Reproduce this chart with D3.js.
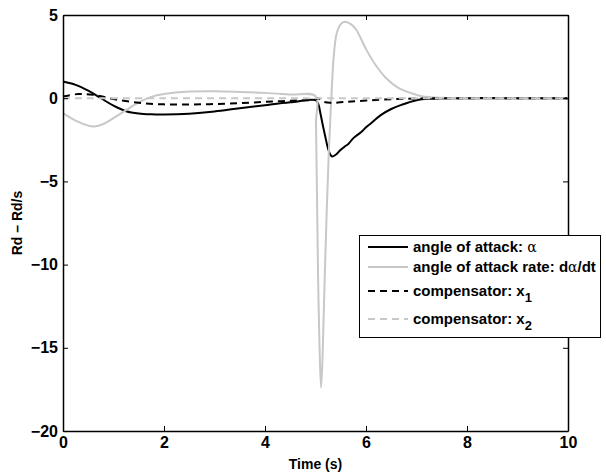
<!DOCTYPE html>
<html>
<head>
<meta charset="utf-8">
<script src="https://cdn.jsdelivr.net/npm/d3@7"></script>
<style>
  body { margin: 0; background: #fff; }
  text { font-family: "Liberation Sans", Arial, Helvetica, sans-serif; font-weight: bold; }
</style>
</head>
<body>
<div id="container"></div>
<script>
// angle of attack (black, solid)
var alphaT = [0, 0.25, 0.5, 0.75, 1, 1.25, 1.5, 1.75, 2, 2.5, 3, 3.5, 4, 4.5, 5,
  5.05, 5.1, 5.15, 5.2, 5.25, 5.3, 5.33, 5.4, 5.5, 5.58, 5.65, 5.75, 5.9, 6, 6.1,
  6.3, 6.5, 6.7, 7, 7.3, 7.6, 8, 9, 10];
var alphaV = [1.0, 0.8, 0.45, 0.0, -0.45, -0.78, -0.92, -0.97, -0.98, -0.93, -0.8, -0.6, -0.42, -0.25, -0.12,
  -0.3, -0.95, -1.7, -2.4, -3.05, -3.42, -3.5, -3.4, -3.1, -2.9, -2.75, -2.4, -2.05, -1.75, -1.5,
  -1.0, -0.65, -0.4, -0.12, -0.03, 0, 0, 0, 0];

// angle of attack rate (light grey, solid)
var rateT = [0, 0.25, 0.5, 0.62, 0.8, 1, 1.25, 1.5, 1.75, 2, 2.5, 3, 3.5, 4, 4.5, 5,
  5.01, 5.03, 5.05, 5.08, 5.11, 5.14, 5.18, 5.22, 5.26, 5.3, 5.33, 5.36, 5.42, 5.5, 5.58,
  5.7, 5.81, 6, 6.2, 6.4, 6.65, 6.9, 7.1, 7.5, 8, 9, 10];
var rateV = [-0.9, -1.35, -1.65, -1.7, -1.55, -1.2, -0.72, -0.25, 0.08, 0.25, 0.4, 0.42, 0.38, 0.32, 0.22, 0.12,
  -1.5, -6, -10.5, -15, -17.4, -15.5, -11, -7, -3.5, -0.8, 1.0, 2.5, 3.9, 4.45, 4.6,
  4.45, 4.1, 2.95, 1.95, 1.2, 0.6, 0.3, 0.12, 0.02, 0, 0, 0];

// compensator x1 (black, dashed)
var x1T = [0, 0.3, 0.6, 1, 1.5, 2, 2.5, 3, 3.5, 4, 4.5, 5, 5.05, 5.15, 5.3, 5.6, 6, 6.5, 7, 7.5, 10];
var x1V = [0.1, 0.25, 0.2, -0.05, -0.28, -0.37, -0.38, -0.35, -0.3, -0.22, -0.15, -0.08, 0.0, -0.2, -0.28, -0.22, -0.14, -0.06, -0.02, 0, 0];

// compensator x2 (light grey, dashed)
var x2T = [0, 2, 4, 5, 6, 8, 10];
var x2V = [0, 0, 0, 0, 0, 0, 0];

var xTicks = [0, 2, 4, 6, 8, 10];
var yTicks = [5, 0, -5, -10, -15, -20];

var series = [
  { t: alphaT, v: alphaV, color: "#000", dash: null },
  { t: rateT, v: rateV, color: "#c8c8c8", dash: null },
  { t: x1T, v: x1V, color: "#000", dash: "7,5" },
  { t: x2T, v: x2V, color: "#c8c8c8", dash: "7,5" }
];

var legendItems = [
  [["angle of attack: ", "b"], ["\u03b1", "g"]],
  [["angle of attack rate: d", "b"], ["\u03b1", "g"], ["/dt", "b"]],
  [["compensator: x", "b"], ["1", "sub"]],
  [["compensator: x", "b"], ["2", "sub"]]
];

var W = 606, H = 473;
var mLeft = 63, mRight = 568, mTop = 15, mBottom = 431;

var svg = d3.select("#container").append("svg")
  .attr("width", W).attr("height", H);

var x = d3.scaleLinear().domain([0, 10]).range([mLeft, mRight]);
var y = d3.scaleLinear().domain([-20, 5]).range([mBottom, mTop]);

// curves
var line = d3.line()
  .x(function(d) { return x(d[0]); })
  .y(function(d) { return y(d[1]); })
  .curve(d3.curveCatmullRom.alpha(0.5));

series.forEach(function(s) {
  var pts = s.t.map(function(t, i) { return [t, s.v[i]]; });
  svg.append("path")
    .attr("d", line(pts))
    .attr("fill", "none")
    .attr("stroke", s.color)
    .attr("stroke-width", 2)
    .attr("stroke-dasharray", s.dash);
});

// axes, ticks pointing inward, mirrored on top/right
function styleAxis(g) {
  g.select(".domain").attr("stroke", "#000").attr("stroke-width", 1.5);
  g.selectAll(".tick line").attr("stroke", "#000");
  g.selectAll("text").attr("fill", "#000").attr("font-size", 16)
    .attr("font-family", "'Liberation Sans', Arial, sans-serif").attr("font-weight", "bold");
}

svg.append("g").attr("transform", "translate(0," + mBottom + ")")
  .call(d3.axisBottom(x).tickValues(xTicks).tickSize(-5).tickSizeOuter(0).tickPadding(6))
  .call(styleAxis);
svg.append("g").attr("transform", "translate(0," + mTop + ")")
  .call(d3.axisTop(x).tickValues(xTicks).tickSize(-5).tickSizeOuter(0).tickFormat(""))
  .call(styleAxis);
svg.append("g").attr("transform", "translate(" + mLeft + ",0)")
  .call(d3.axisLeft(y).tickValues(yTicks).tickSize(-5).tickSizeOuter(0).tickPadding(5))
  .call(styleAxis);
svg.append("g").attr("transform", "translate(" + mRight + ",0)")
  .call(d3.axisRight(y).tickValues(yTicks).tickSize(-5).tickSizeOuter(0).tickFormat(""))
  .call(styleAxis);

// axis labels
svg.append("text")
  .attr("x", (mLeft + mRight) / 2).attr("y", 469)
  .attr("text-anchor", "middle").attr("font-size", 14)
  .text("Time (s)");
svg.append("text")
  .attr("transform", "translate(22," + (mTop + mBottom) / 2 + ") rotate(-90)")
  .attr("text-anchor", "middle").attr("font-size", 14)
  .text("Rd \u2013 Rd/s");

// legend
var lg = svg.append("g");
lg.append("rect")
  .attr("x", 359.5).attr("y", 235.5).attr("width", 241).attr("height", 102)
  .attr("fill", "#fff").attr("stroke", "#000").attr("stroke-width", 1);

var rowY = [247, 267, 291, 319];
legendItems.forEach(function(parts, i) {
  var s = series[i];
  lg.append("line")
    .attr("x1", 368).attr("x2", 408)
    .attr("y1", rowY[i]).attr("y2", rowY[i])
    .attr("stroke", s.color).attr("stroke-width", 2)
    .attr("stroke-dasharray", s.dash);
  var txt = lg.append("text")
    .attr("x", 413).attr("y", rowY[i] + 5)
    .attr("font-size", 15);
  parts.forEach(function(p) {
    var ts = txt.append("tspan").text(p[0]);
    if (p[1] === "g") {
      ts.attr("font-weight", "normal").attr("font-family", "'DejaVu Serif', serif").attr("font-size", 14);
    } else if (p[1] === "sub") {
      ts.attr("dy", 6).attr("font-size", 13);
    }
  });
});
</script>
</body>
</html>
